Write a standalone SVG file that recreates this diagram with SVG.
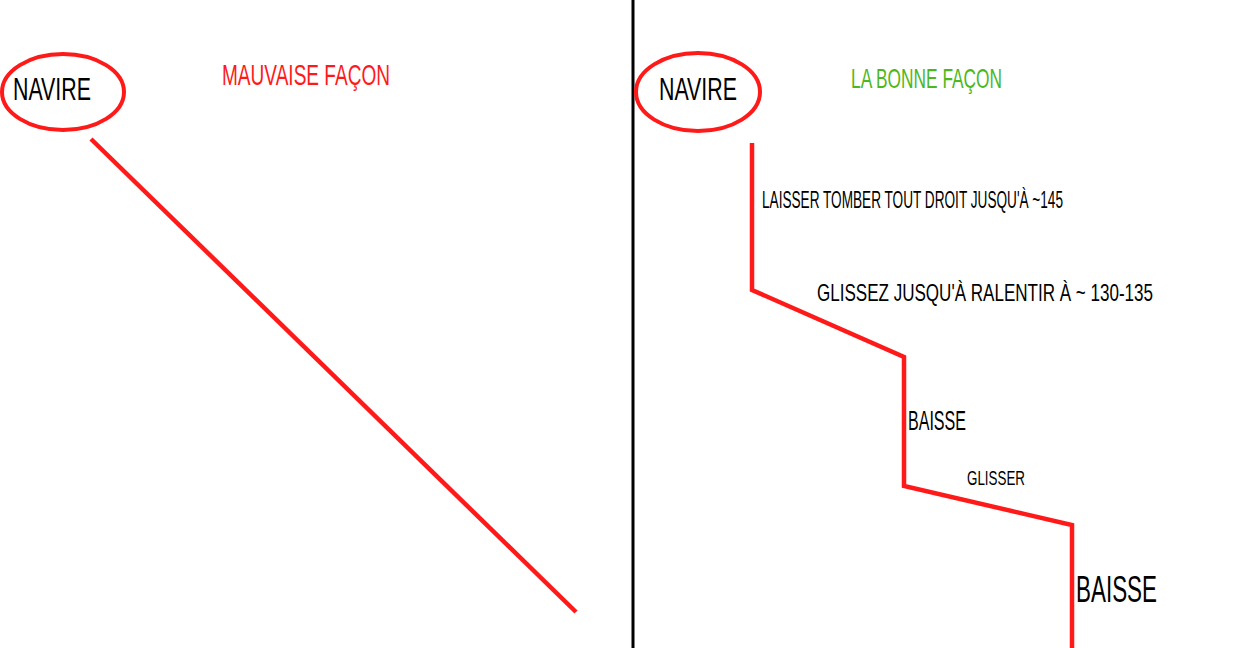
<svg xmlns="http://www.w3.org/2000/svg" width="1256" height="648" viewBox="0 0 1256 648">
<style>
  text { font-family: "Liberation Sans", Arial, sans-serif; }
  .blk { fill: #000; }
  .ell { fill: none; stroke: #ff1a1a; stroke-width: 4; }
  .path { fill: none; stroke: #ff1a1a; stroke-width: 4.5; stroke-linejoin: miter; }
</style>
<rect width="1256" height="648" fill="#fff"/>
<g id="divider"><line x1="633" y1="0" x2="633" y2="648" stroke="#000" stroke-width="3"/></g>
<g id="navire-left">
  <ellipse class="ell" cx="63" cy="92" rx="61" ry="38"/>
  <text class="blk" x="13" y="100" font-size="32" textLength="78" lengthAdjust="spacingAndGlyphs">NAVIRE</text>
</g>
<g id="title-wrong">
  <text x="222" y="85" font-size="30" fill="#ff1a1a" textLength="168" lengthAdjust="spacingAndGlyphs">MAUVAISE FAÇON</text>
</g>
<g id="navire-right">
  <ellipse class="ell" cx="698" cy="92" rx="62" ry="39"/>
  <text class="blk" x="659" y="100" font-size="32" textLength="78" lengthAdjust="spacingAndGlyphs">NAVIRE</text>
</g>
<g id="title-right">
  <text x="851" y="88" font-size="28" fill="#4cb81c" textLength="151" lengthAdjust="spacingAndGlyphs">LA BONNE FAÇON</text>
</g>
<g id="connectors">
  <line class="path" x1="91" y1="139" x2="576" y2="612"/>
  <polyline class="path" points="752,143 752,290 904,357 904,486 1072,525 1072,648"/>
</g>
<g id="labels">
  <text class="blk" x="762" y="208" font-size="24" textLength="301" lengthAdjust="spacingAndGlyphs">LAISSER TOMBER TOUT DROIT JUSQU'À ~145</text>
  <text class="blk" x="817" y="301" font-size="24" textLength="336" lengthAdjust="spacingAndGlyphs">GLISSEZ JUSQU'À RALENTIR À ~ 130-135</text>
  <text class="blk" x="908" y="430" font-size="28" textLength="58" lengthAdjust="spacingAndGlyphs">BAISSE</text>
  <text class="blk" x="967" y="485" font-size="21" textLength="58" lengthAdjust="spacingAndGlyphs">GLISSER</text>
  <text class="blk" x="1076" y="602" font-size="37" textLength="81" lengthAdjust="spacingAndGlyphs">BAISSE</text>
</g>
</svg>
